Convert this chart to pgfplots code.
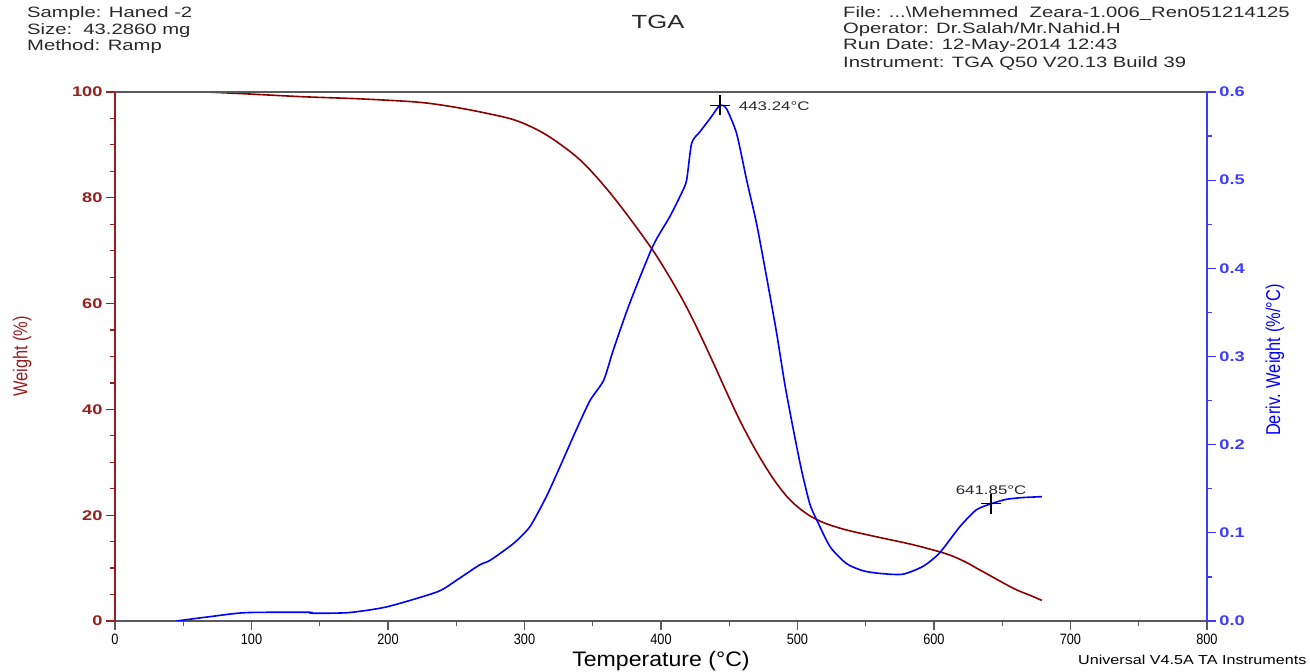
\documentclass[border=0pt]{standalone}
\usepackage{fontspec}
\setmainfont{Liberation Sans}
\usepackage{graphicx}
\usepackage{pgfplots}
\pgfplotsset{compat=1.18}

\definecolor{wtred}{RGB}{139,0,0}
\definecolor{axred}{RGB}{150,30,30}
\definecolor{dtgblue}{RGB}{0,0,255}
\definecolor{axblue}{RGB}{60,60,255}
\definecolor{axgray}{RGB}{90,90,90}
\definecolor{txtgray}{RGB}{40,40,40}

\newcommand{\hdr}[1]{\fontsize{15}{15}\selectfont\scalebox{1.35}[1]{#1}}

\begin{document}
\begin{tikzpicture}
\useasboundingbox (0,0) rectangle (1310pt,672pt);

% header
\node[anchor=west, inner sep=0, text=txtgray] at (27pt,658pt) {\hdr{Sample: Haned -2}};
\node[anchor=west, inner sep=0, text=txtgray] at (27pt,641pt) {\hdr{Size:\ \ 43.2860 mg}};
\node[anchor=west, inner sep=0, text=txtgray] at (27pt,625pt) {\hdr{Method: Ramp}};
\node[inner sep=0, text=txtgray] at (658pt,650pt) {\fontsize{19}{19}\selectfont\scalebox{1.35}[1]{TGA}};
\node[anchor=west, inner sep=0, text=txtgray] at (843pt,658pt) {\hdr{File: ...\textbackslash Mehemmed\ \ Zeara-1.006\_Ren051214125}};
\node[anchor=west, inner sep=0, text=txtgray] at (843pt,642pt) {\hdr{Operator: Dr.Salah/Mr.Nahid.H}};
\node[anchor=west, inner sep=0, text=txtgray] at (843pt,626pt) {\hdr{Run Date: 12-May-2014 12:43}};
\node[anchor=west, inner sep=0, text=txtgray] at (843pt,609pt) {\hdr{Instrument: TGA Q50 V20.13 Build 39}};
\node[anchor=west, inner sep=0, text=black] at (1078pt,12pt) {\fontsize{13}{13}\selectfont\scalebox{1.24}[1]{Universal V4.5A TA Instruments}};

% weight (left axis)
\begin{axis}[
  at={(115pt,51pt)}, anchor=south west,
  scale only axis, width=1092pt, height=529pt,
  xmin=0, xmax=800, ymin=0, ymax=100,
  axis x line*=bottom, axis y line*=left,
  x axis line style={axgray, line width=1.6pt, -},
  y axis line style={axred, line width=1.6pt, -},
  xtick distance=100, ytick distance=20,
  minor x tick num=1, minor y tick num=3,
  tick align=outside,
  major tick length=9pt, minor tick length=5pt,
  xtick style={axgray, line width=1.2pt},
  ytick style={axred, line width=1.2pt},
  /pgf/number format/assume math mode=true,
  xticklabel={\scalebox{0.85}[1]{\pgfmathprintnumber{\tick}}},
  xticklabel style={font=\fontsize{15}{15}\selectfont, text=black},
  yticklabel={\scalebox{1.3}[1]{\bfseries\pgfmathprintnumber{\tick}}},
  yticklabel style={font=\fontsize{14}{14}\selectfont, text=axred},
  xlabel={\scalebox{1.1}[1]{Temperature (°C)}},
  xlabel style={font=\fontsize{21}{21}\selectfont, at={(axis description cs:0.5,-0.075)}, anchor=center},
  ylabel={\scalebox{0.82}[1]{Weight (\%)}},
  ylabel style={font=\fontsize{20}{20}\selectfont, text=axred, at={(axis description cs:-0.085,0.5)}, anchor=center},
]
\addplot[wtred, line width=1.6pt, smooth, tension=0.5] coordinates {
  (67,100) (100,99.6) (138,99.1) (180,98.7) (221,98.1) (245,97.3)
  (270,96.1) (294,94.6) (316,91.9) (341,87.1) (365,80.2) (394,70.1)
  (414,61.6) (426,55.6) (438,49.0) (448,43.3) (458,37.8) (470,32.0) (482,27.0)
  (492,23.6) (500,21.6) (509,19.9) (520,18.5) (536,17.2) (560,15.8)
  (585,14.4) (609,12.7) (622,11.3) (634,9.6) (658,6.2) (670,4.9) (679,3.9)
};
\end{axis}

% derivative (right axis)
\begin{axis}[
  at={(115pt,51pt)}, anchor=south west,
  scale only axis, width=1092pt, height=529pt,
  xmin=0, xmax=800, ymin=0, ymax=0.6,
  axis x line*=top, axis y line*=right,
  xtick=\empty,
  x axis line style={axgray, line width=1.6pt, -},
  y axis line style={axblue, line width=1.6pt, -},
  ytick distance=0.1, minor y tick num=1,
  tick align=outside,
  major tick length=9pt, minor tick length=5pt,
  ytick style={axblue, line width=1.2pt},
  /pgf/number format/assume math mode=true,
  yticklabel={\scalebox{1.3}[1]{\bfseries\pgfmathprintnumber[fixed,fixed zerofill,precision=1]{\tick}}},
  yticklabel style={font=\fontsize{14}{14}\selectfont, text=axblue},
  ylabel={\scalebox{0.82}[1]{Deriv. Weight (\%/°C)}},
  ylabel style={font=\fontsize{20}{20}\selectfont, text=dtgblue, rotate=0, at={(axis description cs:1.0623,0.493)}, anchor=center},
]
\addplot[dtgblue, line width=1.6pt, smooth, tension=0.4] coordinates {
  (45,0) (70,0.005) (96,0.0095) (142,0.0099) (145,0.0088) (171,0.0095)
  (199,0.016) (236,0.033) (250,0.046) (267,0.0635) (275,0.069) (292,0.088)
  (304,0.107) (316,0.141) (326,0.175) (338,0.217) (348,0.250) (358,0.273)
  (365,0.307) (377,0.360) (394,0.425) (406.6,0.459) (415,0.485) (418.8,0.500)
  (422.5,0.542) (428.6,0.555) (436,0.570) (443.24,0.585) (448,0.581)
  (455.4,0.553) (462.8,0.500) (470,0.451) (477.4,0.390) (484.8,0.326)
  (490.8,0.268) (497,0.217) (503,0.171) (509,0.133) (514,0.115) (524,0.084)
  (536,0.065) (548,0.057) (560,0.054) (577,0.053) (592,0.062) (604,0.077)
  (619,0.107) (631,0.126) (641.85,0.133) (653,0.138) (665,0.140) (679,0.141)
};
\addplot[only marks, mark=+, mark size=10pt, black, line width=1.2pt]
  coordinates {(443.24,0.585) (641.85,0.133)};
\node[anchor=west, inner sep=0, text=txtgray] at (axis cs:457,0.584)
  {\fontsize{12.5}{12.5}\selectfont\scalebox{1.35}[1]{443.24°C}};
\node[anchor=south, inner sep=0, text=txtgray] at (axis cs:641.85,0.143)
  {\fontsize{12.5}{12.5}\selectfont\scalebox{1.35}[1]{641.85°C}};
\end{axis}
\end{tikzpicture}
\end{document}
